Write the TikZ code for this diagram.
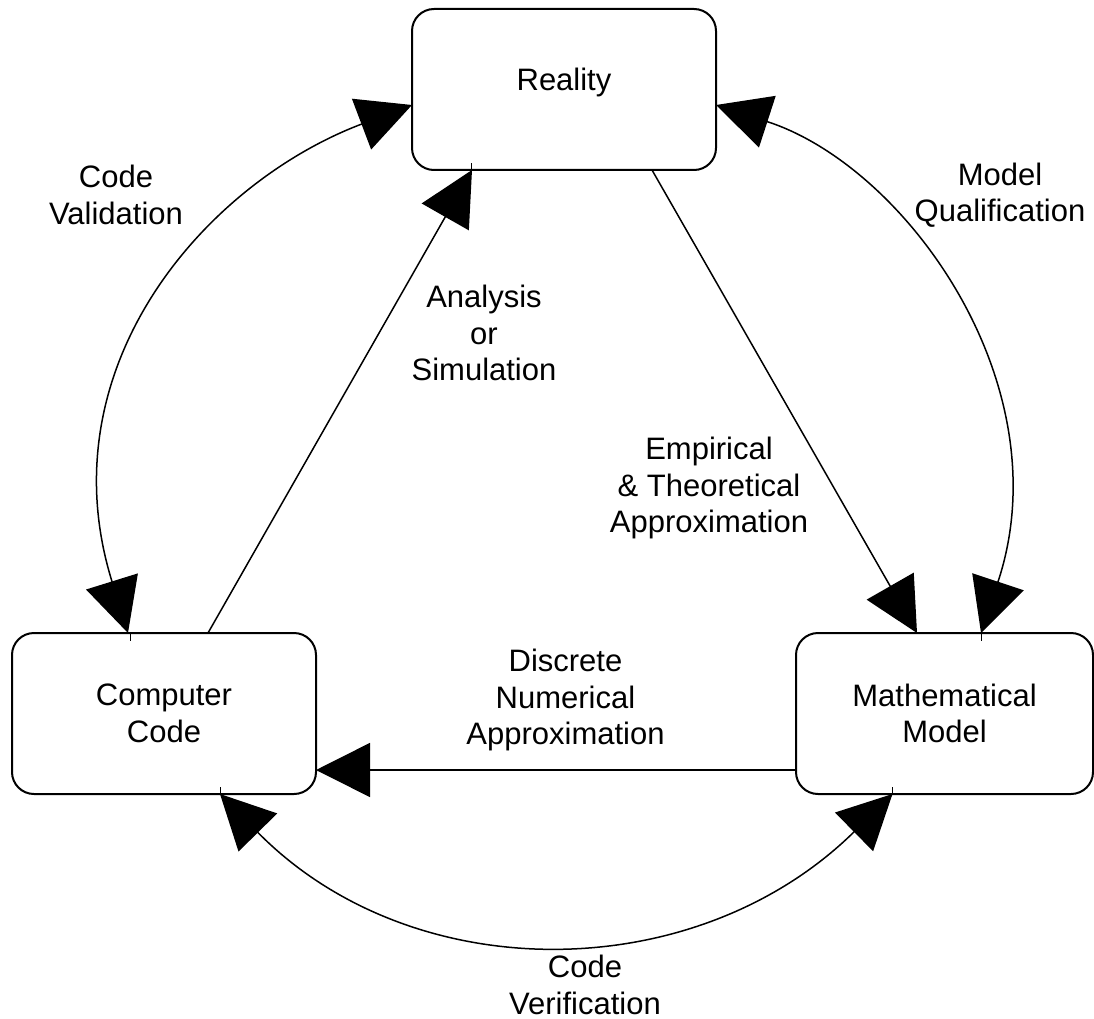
\documentclass[tikz,border=0pt]{standalone}
\usepackage{fontspec}
\setmainfont{Liberation Sans}
\usetikzlibrary{arrows.meta,calc}
\begin{document}
\begin{tikzpicture}[x=1pt,y=-1pt,
  >={Triangle[length=54pt,width=54pt]},
  box/.style={draw, line width=2pt, rounded corners=22pt, minimum width=304pt,
    minimum height=161pt, inner sep=0pt, outer sep=0pt, align=center,
    font=\fontsize{31}{36.5}\selectfont},
  lbl/.style={align=center, inner sep=0pt, font=\fontsize{31}{36.5}\selectfont},
  conn/.style={line width=1.5pt},
  stub/.style={line width=1pt}]
\fill[white] (0,0) rectangle (1094,1019);
\useasboundingbox (0,0) rectangle (1094,1019);
% boxes
\node[box, text depth=20pt] (reality) at (564,89.5) {Reality};
\node[box] (cc) at (164,713.5) {Computer\\Code};
\node[box, minimum width=297pt] (mm) at (944.5,713.5) {Mathematical\\Model};
% straight connectors
\draw[conn, ->] ($(cc.north)+(44,0)$) -- ($(reality.south)+(-92,0)$);
\draw[conn, ->] ($(reality.south)+(88,0)$) -- ($(mm.north)+(-27.5,0)$);
\draw[conn, ->] ($(mm.west)+(0,56.5)$) -- ($(cc.east)+(0,56.5)$);
% curved connectors
\draw[conn, <->] ($(reality.west)+(0,15.5)$) .. controls +(-206,78) and +(-83,-267) .. ($(cc.north)+(-36,0)$);
\draw[conn, <->] ($(reality.east)+(0,15.5)$) .. controls +(191,62) and +(82,-247) .. ($(mm.north)+(36.5,0)$);
\draw[conn, <->] ($(cc.south)+(56,0)$) .. controls +(193,196) and +(-196,193) .. ($(mm.south)+(-52,0)$);
% small stubs at the ports
\draw[stub] ($(reality.south)+(-93,0)$) -- +(0,-7);
\draw[stub] ($(cc.north)+(-34,0)$) -- +(0,8);
\draw[stub] ($(cc.south)+(56,0)$) -- +(0,-7);
\draw[stub] ($(mm.north)+(36.5,0)$) -- +(0,8);
\draw[stub] ($(mm.south)+(-52,0)$) -- +(0,-7);
% labels
\node[lbl] (cvl) at (116,195) {Code\\Validation};
\node[lbl] (asl) at (484,333) {Analysis\\or\\Simulation};
\node[lbl] (mql) at (1000,195) {Model\\Qualification};
\node[lbl] (etl) at (709,488) {Empirical\\\& Theoretical\\Approximation};
\node[lbl] (dnl) at (565.5,700) {Discrete\\Numerical\\Approximation};
\node[lbl] (cvr) at (585,985) {Code\\Verification};
\end{tikzpicture}
\end{document}
